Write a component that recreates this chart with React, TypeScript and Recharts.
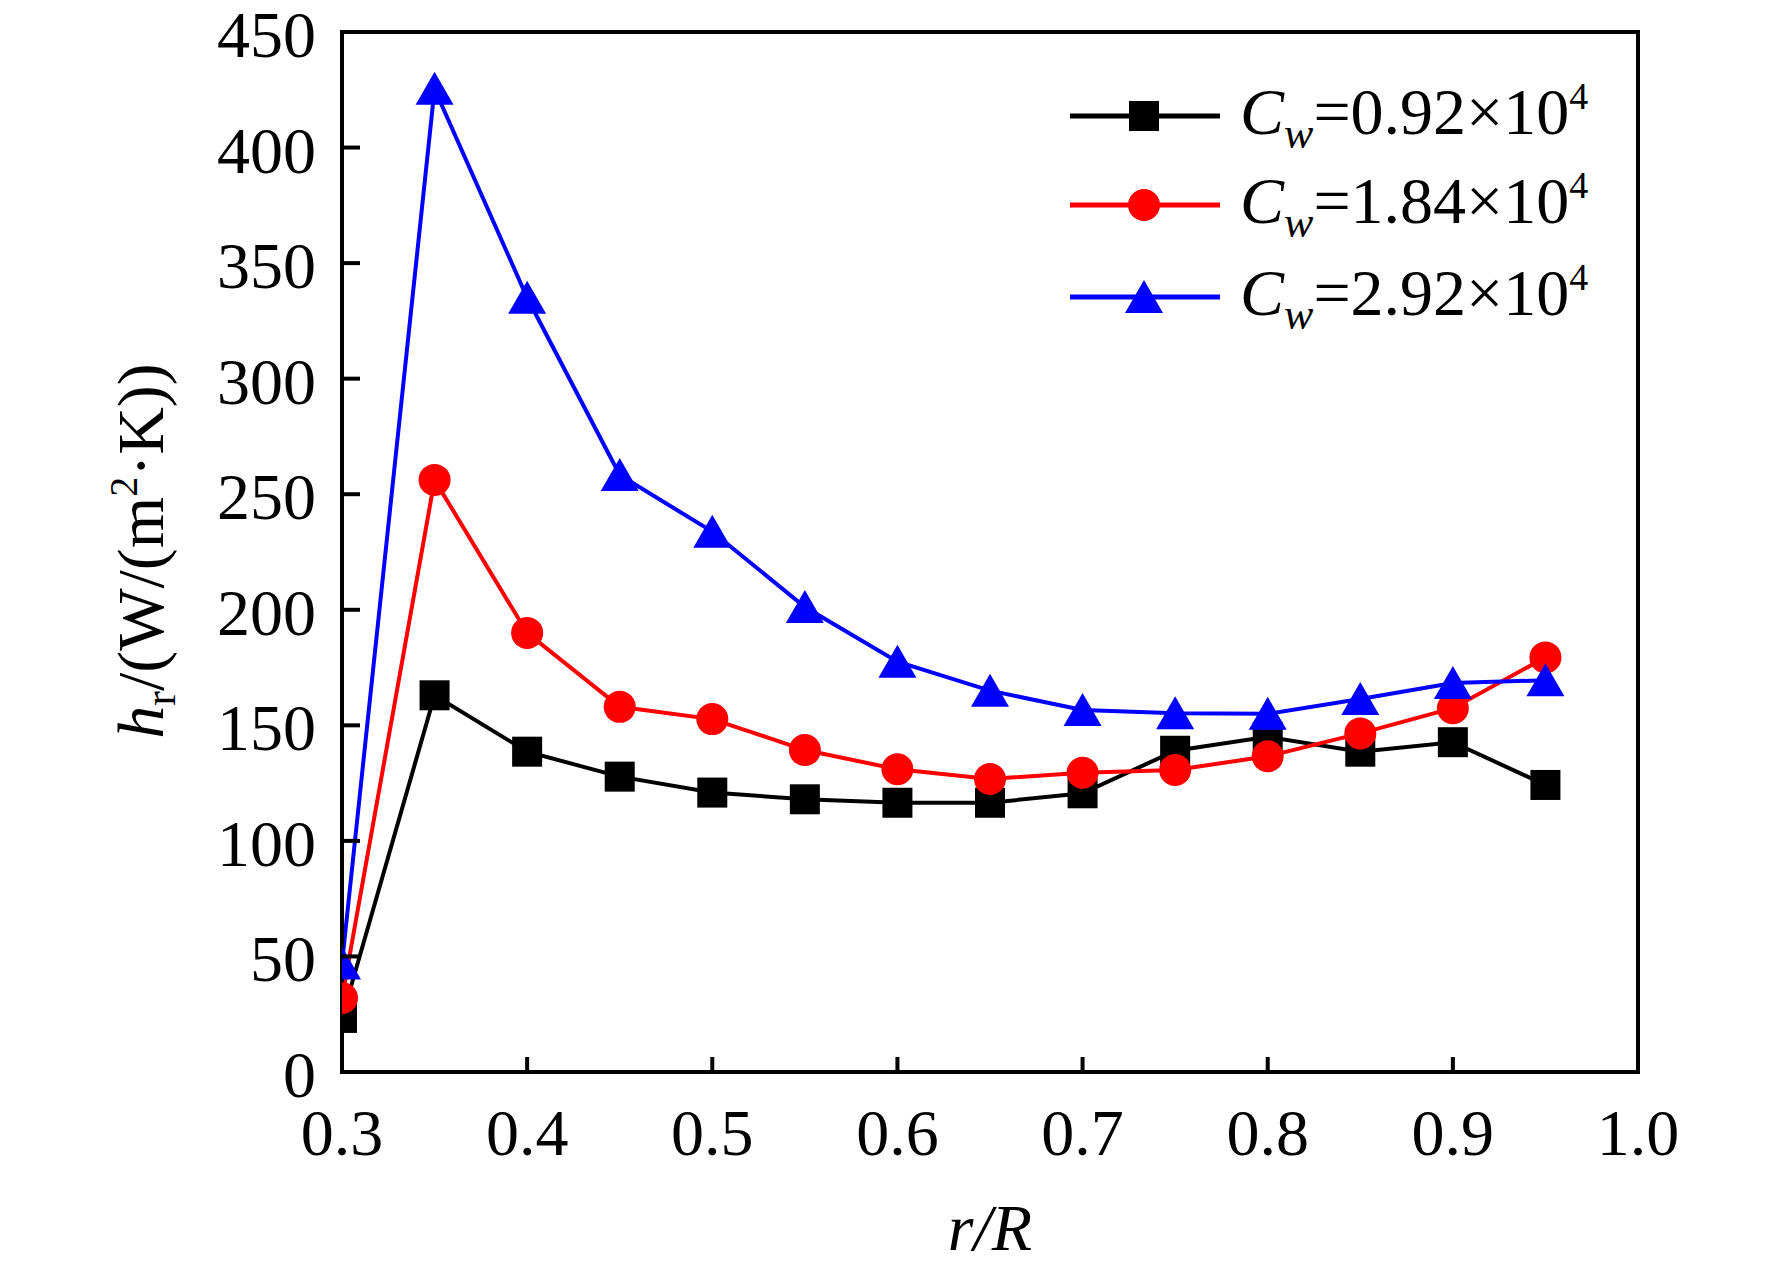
import React from 'react';
import { LineChart, Line, XAxis, YAxis, ReferenceLine, Legend } from 'recharts';

const rOverR = [0.3, 0.35, 0.4, 0.45, 0.5, 0.55, 0.6, 0.65, 0.7, 0.75, 0.8, 0.85, 0.9, 0.95];
const cw092 = [23.4, 163, 138.6, 127.8, 120.9, 118, 116.5, 116.5, 120.6, 139, 145, 138.6, 142.7, 124.2];
const cw184 = [32, 256.2, 190, 158, 152.7, 139.3, 131, 126.8, 129.5, 130.7, 136.6, 146.5, 157.4, 179.4];
const cw292 = [47, 425.4, 335, 258.3, 233.8, 201.2, 177.5, 165, 156.6, 155.2, 155, 161.4, 168.3, 169.5];

const xTicks = [0.3, 0.4, 0.5, 0.6, 0.7, 0.8, 0.9, 1.0];
const yTicks = [0, 50, 100, 150, 200, 250, 300, 350, 400, 450];
const seriesValues = ['0.92', '1.84', '2.92'];
const seriesKeys = ['a', 'b', 'c'];
const seriesColors = ['#000000', '#ff0000', '#0000ff'];

const data = rOverR.map((r, i) => ({ r, a: cw092[i], b: cw184[i], c: cw292[i] }));

const FONT = '"Liberation Serif", "Times New Roman", serif';
const FS = 66;

const drawMarker = (kind: number, cx: number, cy: number, color: string, key?: string) => {
  if (kind === 0) {
    return <rect key={key} x={cx - 15} y={cy - 15} width={30} height={30} fill={color} />;
  }
  if (kind === 1) {
    return <circle key={key} cx={cx} cy={cy} r={16} fill={color} />;
  }
  return (
    <path
      key={key}
      d={`M${cx},${cy - 17} L${cx + 19},${cy + 16} L${cx - 19},${cy + 16} Z`}
      fill={color}
    />
  );
};

const makeDot = (kind: number) => (p: any) => {
  if (p.cx == null || p.cy == null) return <g key={`n${kind}-${p.index}`} />;
  return drawMarker(kind, p.cx, p.cy, seriesColors[kind], `d${kind}-${p.index}`);
};

const XTick = (p: any) => {
  const { x, y, payload } = p;
  const v = Number(payload.value);
  const showLine = v > 0.3 + 1e-6 && v < 1.0 - 1e-6;
  return (
    <g>
      {showLine && <line x1={x} y1={y} x2={x} y2={y - 15} stroke="#000" strokeWidth={4} />}
      <text x={x} y={y + 83} textAnchor="middle" fontFamily={FONT} fontSize={FS} fill="#000">
        {v.toFixed(1)}
      </text>
    </g>
  );
};

const YTick = (p: any) => {
  const { x, y, payload } = p;
  const v = Number(payload.value);
  const showLine = v > 0 && v < 450;
  return (
    <g>
      {showLine && <line x1={x} y1={y} x2={x + 18} y2={y} stroke="#000" strokeWidth={4} />}
      <text x={x - 26} y={y + 25} textAnchor="end" fontFamily={FONT} fontSize={FS} fill="#000">
        {String(v)}
      </text>
    </g>
  );
};

const YLabel = () => (
  <text
    x={163}
    y={551}
    transform="rotate(-90, 163, 551)"
    textAnchor="middle"
    fontFamily={FONT}
    fontSize={FS}
    fill="#000"
  >
    <tspan fontStyle="italic">h</tspan>
    <tspan fontSize={44} dy={12}>r</tspan>
    <tspan dy={-12}>/(W/(m</tspan>
    <tspan fontSize={40} dy={-26}>2</tspan>
    <tspan dy={26}>·K))</tspan>
  </text>
);

const XLabel = () => (
  <text x={990} y={1250} textAnchor="middle" fontFamily={FONT} fontSize={FS} fontStyle="italic" fill="#000">
    r/R
  </text>
);

const LegendContent = (props: any) => {
  const items = (props.payload || []) as any[];
  const rowY = [46, 135, 227];
  return (
    <svg width={560} height={280} style={{ display: 'block' }}>
      {items.map((it, i) => {
        const idx = seriesKeys.indexOf(String(it.dataKey));
        const k = idx < 0 ? i : idx;
        const y = rowY[k];
        const color = seriesColors[k];
        return (
          <g key={`lg${k}`}>
            <line x1={10} y1={y} x2={160} y2={y} stroke={color} strokeWidth={5} />
            {drawMarker(k, 84, y, color)}
            <text x={180} y={y + 18} fontFamily={FONT} fontSize={FS} fill="#000">
              <tspan fontStyle="italic">C</tspan>
              <tspan fontStyle="italic" fontSize={44} dy={14}>w</tspan>
              <tspan dy={-14}>{`=${seriesValues[k]}×10`}</tspan>
              <tspan fontSize={38} dy={-25}>4</tspan>
            </text>
          </g>
        );
      })}
    </svg>
  );
};

export default function App() {
  return (
    <div style={{ position: 'absolute', left: 0, top: 0, width: 1772, height: 1271, background: '#fff' }}>
      <LineChart
        width={1772}
        height={1271}
        data={data}
        margin={{ top: 32, right: 134, bottom: 0, left: 0 }}
      >
        <XAxis
          dataKey="r"
          type="number"
          domain={[0.3, 1.0]}
          ticks={xTicks}
          interval={0}
          allowDataOverflow
          height={199}
          tickLine={false}
          tickSize={0}
          tickMargin={0}
          tick={XTick}
          axisLine={{ stroke: '#000', strokeWidth: 4, strokeLinecap: 'square' }}
          label={{ content: XLabel }}
        />
        <YAxis
          type="number"
          domain={[0, 450]}
          ticks={yTicks}
          interval={0}
          allowDataOverflow
          width={342}
          tickLine={false}
          tickSize={0}
          tickMargin={0}
          tick={YTick}
          axisLine={{ stroke: '#000', strokeWidth: 4, strokeLinecap: 'square' }}
          label={{ content: YLabel }}
        />
        <ReferenceLine y={450} stroke="#000" strokeWidth={4} strokeLinecap="square" />
        <ReferenceLine x={1.0} stroke="#000" strokeWidth={4} strokeLinecap="square" />
        <Legend
          layout="vertical"
          align="center"
          verticalAlign="middle"
          content={LegendContent}
          wrapperStyle={{ left: 1060, top: 70, width: 560, height: 280 }}
        />
        <Line
          dataKey="a"
          name={seriesValues[0]}
          stroke={seriesColors[0]}
          strokeWidth={4}
          dot={makeDot(0)}
          activeDot={false}
          isAnimationActive={false}
        />
        <Line
          dataKey="b"
          name={seriesValues[1]}
          stroke={seriesColors[1]}
          strokeWidth={4}
          dot={makeDot(1)}
          activeDot={false}
          isAnimationActive={false}
        />
        <Line
          dataKey="c"
          name={seriesValues[2]}
          stroke={seriesColors[2]}
          strokeWidth={4}
          dot={makeDot(2)}
          activeDot={false}
          isAnimationActive={false}
        />
      </LineChart>
    </div>
  );
}
